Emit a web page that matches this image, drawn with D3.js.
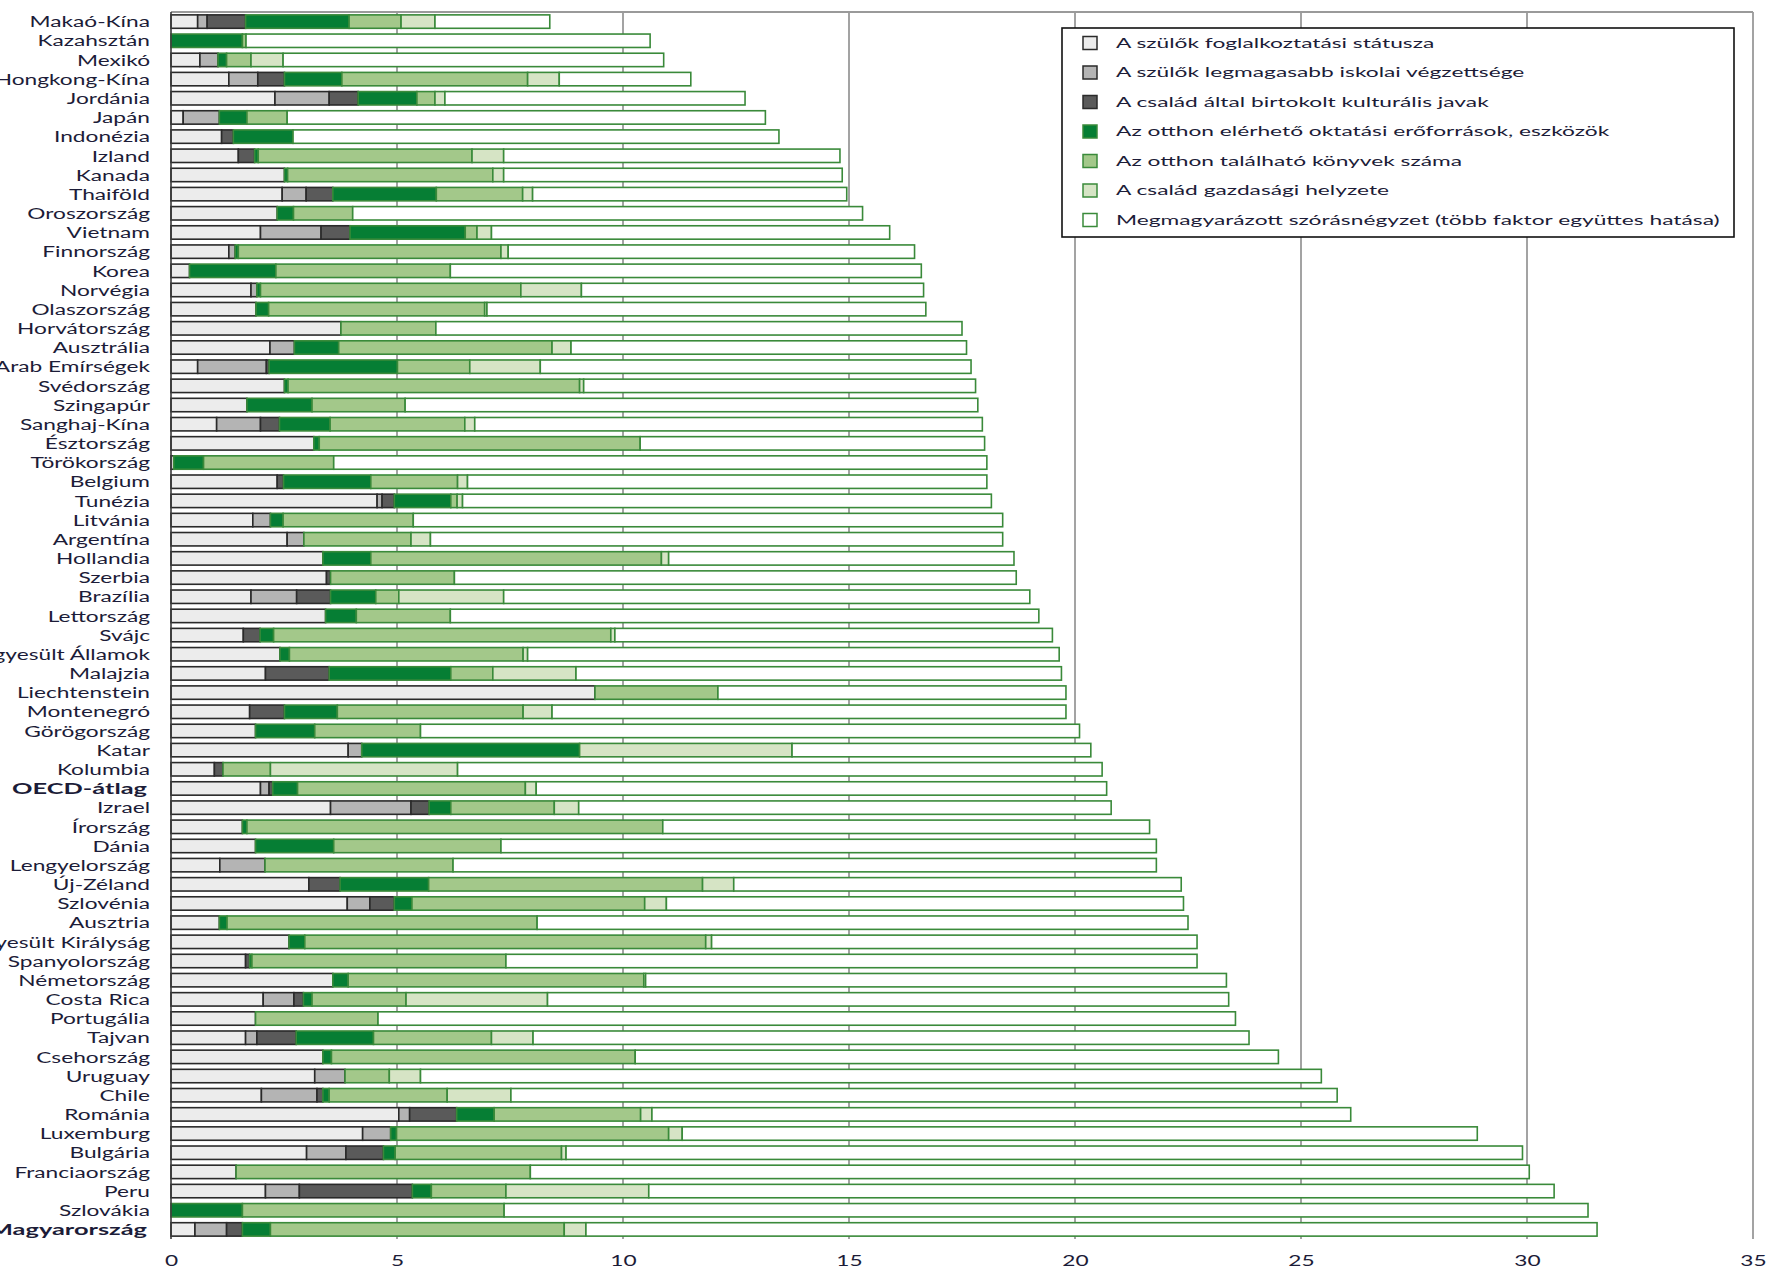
<!DOCTYPE html>
<html><head><meta charset="utf-8">
<script src="https://cdn.jsdelivr.net/npm/d3@7"></script>
<style>body{margin:0;background:#fff}svg{display:block}</style>
</head><body>
<script>
const countries = ["Makaó-Kína","Kazahsztán","Mexikó","Hongkong-Kína","Jordánia","Japán","Indonézia","Izland","Kanada","Thaiföld","Oroszország","Vietnam","Finnország","Korea","Norvégia","Olaszország","Horvátország","Ausztrália","Arab Emírségek","Svédország","Szingapúr","Sanghaj-Kína","Észtország","Törökország","Belgium","Tunézia","Litvánia","Argentína","Hollandia","Szerbia","Brazília","Lettország","Svájc","Egyesült Államok","Malajzia","Liechtenstein","Montenegró","Görögország","Katar","Kolumbia","OECD-átlag","Izrael","Írország","Dánia","Lengyelország","Új-Zéland","Szlovénia","Ausztria","Egyesült Királyság","Spanyolország","Németország","Costa Rica","Portugália","Tajvan","Csehország","Uruguay","Chile","Románia","Luxemburg","Bulgária","Franciaország","Peru","Szlovákia","Magyarország"];
const boldCountries = ["OECD-átlag","Magyarország"];

const sEmployment = [0.59,0,0.64,1.28,2.30,0.27,1.12,1.49,2.51,2.46,2.35,1.98,1.28,0.41,1.77,1.88,3.76,2.19,0.59,2.51,1.68,1.01,3.16,0.06,2.35,4.56,1.81,2.57,3.36,3.44,1.77,3.42,1.60,2.41,2.09,9.38,1.74,1.87,3.92,0.96,1.98,3.53,1.58,1.87,1.08,3.05,3.90,1.07,2.61,1.65,3.58,2.04,1.87,1.65,3.36,3.18,2.00,5.04,4.24,3.00,1.44,2.09,0,0.53];
const sEducation = [0.21,0,0.40,0.64,1.20,0.80,0,0,0,0.53,0,1.34,0.14,0,0.13,0,0,0.54,1.52,0,0,0.97,0,0,0,0.11,0.39,0.37,0,0,1.01,0,0,0,0,0,0,0,0.30,0,0.19,1.78,0,0,1.00,0,0.50,0,0,0,0,0.68,0,0.25,0,0.67,1.23,0.24,0.62,0.87,0,0.75,0,0.70];
const sCultural = [0.85,0,0,0.59,0.64,0,0.26,0.36,0,0.59,0,0.64,0,0,0,0,0,0,0.06,0,0,0.42,0,0,0.14,0.27,0,0,0,0.09,0.75,0,0.37,0,1.41,0,0.77,0,0,0.19,0.08,0.40,0,0,0,0.69,0.54,0,0,0.09,0,0.21,0,0.87,0,0,0.13,1.04,0,0.83,0,2.50,0,0.35];
const sResources = [2.29,1.58,0.19,1.27,1.30,0.61,1.32,0.08,0.07,2.29,0.36,2.55,0.07,1.91,0.08,0.28,0,0.98,2.84,0.08,1.44,1.12,0.12,0.66,1.93,1.25,0.28,0,1.06,0,1.00,0.68,0.30,0.21,2.69,0,1.17,1.31,4.82,0,0.55,0.48,0.10,1.73,0,1.96,0.39,0.17,0.35,0.05,0.34,0.19,0,1.71,0.19,0,0.14,0.83,0.13,0.26,0,0.42,1.58,0.62];
const sBooks = [1.15,0.08,0.54,4.11,0.40,0.89,0,4.73,4.54,1.91,1.31,0.26,5.81,3.86,5.76,4.78,2.10,4.72,1.60,6.45,2.06,2.98,7.10,2.88,1.92,0.14,2.88,2.37,6.43,2.74,0.51,2.08,7.46,5.17,0.93,2.72,4.11,2.34,0,1.05,5.04,2.29,9.20,3.70,4.16,6.06,5.15,6.86,8.87,5.62,6.54,2.08,2.71,2.61,6.72,0.98,2.61,3.24,6.02,3.68,6.51,1.65,5.79,6.50];
const sWealth = [0.75,0,0.71,0.70,0.22,0,0,0.70,0.24,0.22,0,0.32,0.16,0,1.34,0.05,0,0.42,1.56,0.09,0,0.22,0,0,0.22,0.12,0,0.43,0.16,0,2.32,0,0.09,0.10,1.84,0,0.64,0,4.70,4.14,0.24,0.54,0,0,0,0.69,0.48,0,0.13,0,0.04,3.13,0,0.92,0,0.69,1.41,0.25,0.30,0.10,0,3.16,0,0.48];
const sJoint = [2.54,8.94,8.42,2.91,6.64,10.58,10.75,7.44,7.49,6.95,11.28,8.81,8.99,10.42,7.57,9.71,11.64,8.75,9.53,8.67,12.67,11.23,7.62,14.45,11.49,11.70,13.04,12.66,7.64,12.43,11.64,13.02,9.68,11.76,10.74,7.70,11.37,14.58,6.61,14.26,12.62,11.78,10.77,14.50,15.56,9.90,11.44,14.40,10.74,15.29,12.85,15.07,18.97,15.84,14.23,19.93,18.28,15.46,17.59,21.16,22.10,20.03,23.98,22.37];

const seriesNames = ["A szülők foglalkoztatási státusza","A szülők legmagasabb iskolai végzettsége","A család által birtokolt kulturális javak","Az otthon elérhető oktatási erőforrások, eszközök","Az otthon található könyvek száma","A család gazdasági helyzete","Megmagyarázott szórásnégyzet (több faktor együttes hatása)"];
const xTicks = [0,5,10,15,20,25,30,35];

const fills = ["#ececec","#b4b4b4","#5a5a5a","#067e34","#a3c88a","#d6e4c5","#ffffff"];
const strokes = ["#2a2a2a","#2a2a2a","#2a2a2a","#3a8a3a","#3a8a3a","#3a8a3a","#3a8a3a"];

const keys = ["s1","s2","s3","s4","s5","s6","s7"];
const seriesArrays = [sEmployment,sEducation,sCultural,sResources,sBooks,sWealth,sJoint];
const rows = countries.map((c,i)=>{const o={country:c}; keys.forEach((k,j)=>o[k]=seriesArrays[j][i]); return o;});
const stacked = d3.stack().keys(keys)(rows);

const W=1768,H=1268;
const svg = d3.select("body").append("svg").attr("width",W).attr("height",H);
const FONT = "Lato, 'Open Sans', sans-serif";
const TXT = "#1c1c38";
const x = d3.scaleLinear().domain([0,35]).range([171,1753]);
const y = d3.scaleBand().domain(countries).range([12,1239]).paddingInner(0.3).paddingOuter(0.15);

// gridlines
svg.append("g").selectAll("line").data(xTicks.filter(t=>t>0)).join("line")
  .attr("x1",d=>x(d)).attr("x2",d=>x(d)).attr("y1",12).attr("y2",1239)
  .attr("stroke","#8c8c8c").attr("stroke-width",1.6);
svg.append("line").attr("x1",x(0)).attr("x2",x(35)).attr("y1",12).attr("y2",12)
  .attr("stroke","#9a9a9a").attr("stroke-width",2);

// bars
const layers = svg.append("g").selectAll("g").data(stacked).join("g")
  .attr("fill",(d,i)=>fills[i]).attr("stroke",(d,i)=>strokes[i]).attr("stroke-width",1.6);
layers.selectAll("rect").data(d=>d.filter(p=>p[1]-p[0]>0)).join("rect")
  .attr("x",d=>x(d[0])).attr("width",d=>x(d[1])-x(d[0]))
  .attr("y",d=>y(d.data.country)).attr("height",y.bandwidth());

// left axis line
svg.append("line").attr("x1",x(0)).attr("x2",x(0)).attr("y1",12).attr("y2",1239)
  .attr("stroke","#3a3a3a").attr("stroke-width",1.6);

function measure(txt,size,weight){
  const t = svg.append("text").attr("font-family",FONT).attr("font-size",size).attr("font-weight",weight).text(txt);
  const w = t.node().getComputedTextLength(); t.remove(); return w;
}
const LSIZE = 14.5;
const labStretch = 133 / measure("Horvátország",LSIZE,400);
const boldStretch = 135 / measure("OECD-átlag",LSIZE,700);

// country labels
svg.append("g").selectAll("text").data(countries).join("text")
  .attr("transform",d=>{
    const b = boldCountries.includes(d);
    return `translate(${b?147:150},${y(d)+y.bandwidth()/2}) scale(${b?boldStretch:labStretch},1)`;
  })
  .attr("text-anchor","end").attr("dominant-baseline","central")
  .attr("font-family",FONT).attr("font-size",LSIZE)
  .attr("font-weight",d=>boldCountries.includes(d)?700:400)
  .attr("fill",TXT).text(d=>d);

// x axis
const axis = d3.axisBottom(x).tickValues(xTicks).tickSize(0).tickPadding(0);
const ag = svg.append("g").attr("transform","translate(0,1254)").call(axis);
ag.select(".domain").remove();
ag.selectAll(".tick text").attr("font-family",FONT).attr("font-size",LSIZE).attr("fill",TXT)
  .attr("dy","0.32em").attr("y",7).attr("transform",`scale(${labStretch},1)`);

// legend
const lg = svg.append("g");
lg.append("rect").attr("x",1062).attr("y",28).attr("width",672).attr("height",209)
  .attr("fill","#fff").attr("stroke","#111").attr("stroke-width",1.6);
const LGS = 13;
const legStretch = 604 / measure(seriesNames[6],LGS,400);
const legRowY = d3.scalePoint().domain(seriesNames).range([43,220]);
const items = lg.selectAll("g.item").data(seriesNames).join("g").attr("class","item")
  .attr("transform",d=>`translate(0,${legRowY(d)})`);
items.append("rect").attr("x",1083).attr("y",-6.5).attr("width",14).attr("height",13)
  .attr("fill",(d,i)=>fills[i]).attr("stroke",(d,i)=>strokes[i]).attr("stroke-width",1.5);
items.append("text").attr("transform",`translate(1116,0) scale(${legStretch},1)`)
  .attr("dominant-baseline","central").attr("font-family",FONT).attr("font-size",LGS)
  .attr("fill",TXT).text(d=>d);
</script>
</body></html>
